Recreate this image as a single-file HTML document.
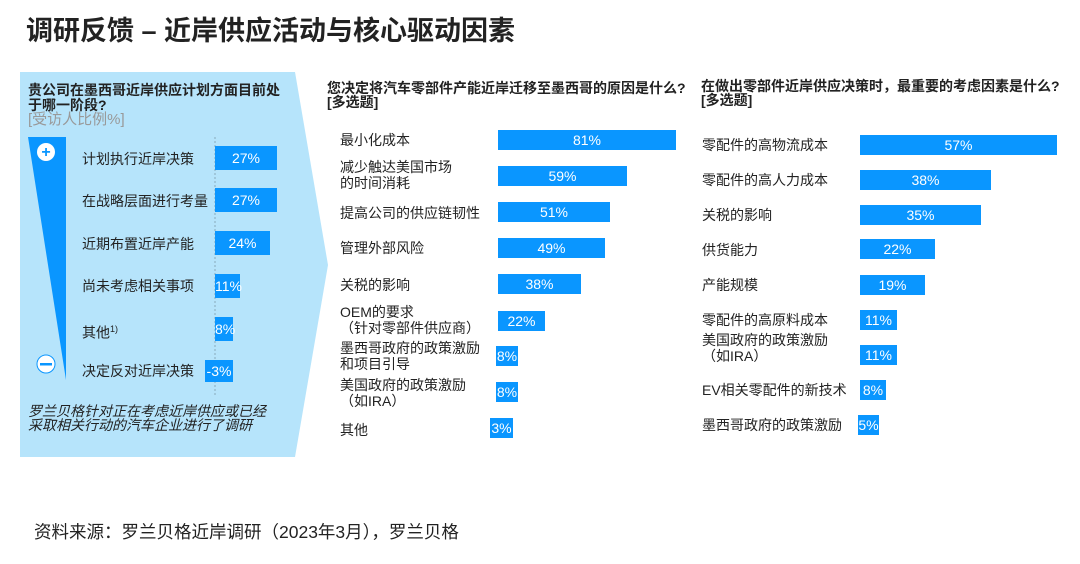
<!DOCTYPE html><html><head><meta charset="utf-8"><style>
body{margin:0;width:1080px;height:564px;background:#fff;position:relative;overflow:hidden;font-family:"Liberation Sans","Noto Sans CJK SC",sans-serif;color:#222}
div{position:absolute}
.t{font-size:14px;line-height:16px;white-space:nowrap}
.b{background:#0a96ff;color:#fff;font-size:14px;height:20px;line-height:20px;text-align:center;overflow:visible;white-space:nowrap}
.h{font-size:14px;font-weight:bold;line-height:14px;white-space:nowrap}
</style></head><body>
<div style="left:26px;top:15px;font-size:27px;font-weight:bold;line-height:32px">调研反馈 – 近岸供应活动与核心驱动因素</div>
<svg style="position:absolute;left:0;top:0" width="1080" height="564">
<polygon points="20,72 295,72 328,265 295,457 20,457" fill="#b6e4fb"/>
<polygon points="28,137 66,137 66,380" fill="#0a96ff"/>
<line x1="215" y1="137" x2="215" y2="395" stroke="#8ab" stroke-dasharray="2,2"/>
<circle cx="46" cy="152" r="9" fill="#fff"/><text x="46" y="157" text-anchor="middle" font-size="16" font-weight="bold" fill="#0a96ff" font-family="Liberation Sans">+</text>
<circle cx="46" cy="364" r="9" fill="#fff" stroke="#0a96ff"/><rect x="40" y="363" width="12" height="2.5" fill="#0a96ff"/>
</svg>
<div class="h" style="left:28px;top:83px;line-height:15px;font-size:14px">贵公司在墨西哥近岸供应计划方面目前处<br>于哪一阶段?</div>
<div class="t" style="left:28px;top:112px;color:#999;font-size:15px">[受访人比例%]</div>
<div class="t" style="left:82px;top:151px">计划执行近岸决策</div><div class="b" style="left:215px;top:146px;width:62px;height:24px;line-height:24px">27%</div>
<div class="t" style="left:82px;top:193px">在战略层面进行考量</div><div class="b" style="left:215px;top:188px;width:62px;height:24px;line-height:24px">27%</div>
<div class="t" style="left:82px;top:236px">近期布置近岸产能</div><div class="b" style="left:215px;top:231px;width:55px;height:24px;line-height:24px">24%</div>
<div class="t" style="left:82px;top:278px">尚未考虑相关事项</div><div class="b" style="left:215px;top:274px;width:25px;height:24px;line-height:24px">11%</div>
<div class="t" style="left:82px;top:321px">其他<sup style="font-size:9px">1)</sup></div><div class="b" style="left:215px;top:317px;width:18px;height:24px;line-height:24px">8%</div>
<div class="t" style="left:82px;top:363px">决定反对近岸决策</div><div class="b" style="left:205px;top:360px;width:28px;height:22px;line-height:22px">-3%</div>
<div class="t" style="left:28px;top:404px;font-style:italic;line-height:14px">罗兰贝格针对正在考虑近岸供应或已经<br>采取相关行动的汽车企业进行了调研</div>
<div class="h" style="left:327px;top:81px">您决定将汽车零部件产能近岸迁移至墨西哥的原因是什么?<br>[多选题]</div>
<div class="t" style="left:340px;top:132px">最小化成本</div><div class="b" style="left:498px;top:130px;width:178px">81%</div>
<div class="t" style="left:340px;top:159px">减少触达美国市场<br>的时间消耗</div><div class="b" style="left:498px;top:166px;width:129px">59%</div>
<div class="t" style="left:340px;top:205px">提高公司的供应链韧性</div><div class="b" style="left:498px;top:202px;width:112px">51%</div>
<div class="t" style="left:340px;top:240px">管理外部风险</div><div class="b" style="left:498px;top:238px;width:107px">49%</div>
<div class="t" style="left:340px;top:277px">关税的影响</div><div class="b" style="left:498px;top:274px;width:83px">38%</div>
<div class="t" style="left:340px;top:304px">OEM的要求<br>（针对零部件供应商）</div><div class="b" style="left:498px;top:311px;width:47px">22%</div>
<div class="t" style="left:340px;top:340px">墨西哥政府的政策激励<br>和项目引导</div><div class="b" style="left:496px;top:346px;width:22px">8%</div>
<div class="t" style="left:340px;top:377px">美国政府的政策激励<br>（如IRA）</div><div class="b" style="left:496px;top:382px;width:22px">8%</div>
<div class="t" style="left:340px;top:422px">其他</div><div class="b" style="left:490px;top:418px;width:23px">3%</div>
<div class="h" style="left:701px;top:79px">在做出零部件近岸供应决策时，最重要的考虑因素是什么?<br>[多选题]</div>
<div class="t" style="left:702px;top:137px">零配件的高物流成本</div><div class="b" style="left:860px;top:135px;width:197px">57%</div>
<div class="t" style="left:702px;top:172px">零配件的高人力成本</div><div class="b" style="left:860px;top:170px;width:131px">38%</div>
<div class="t" style="left:702px;top:207px">关税的影响</div><div class="b" style="left:860px;top:205px;width:121px">35%</div>
<div class="t" style="left:702px;top:242px">供货能力</div><div class="b" style="left:860px;top:239px;width:75px">22%</div>
<div class="t" style="left:702px;top:277px">产能规模</div><div class="b" style="left:860px;top:275px;width:65px">19%</div>
<div class="t" style="left:702px;top:312px">零配件的高原料成本</div><div class="b" style="left:860px;top:310px;width:37px">11%</div>
<div class="t" style="left:702px;top:332px">美国政府的政策激励<br>（如IRA）</div><div class="b" style="left:860px;top:345px;width:37px">11%</div>
<div class="t" style="left:702px;top:382px">EV相关零配件的新技术</div><div class="b" style="left:860px;top:380px;width:26px">8%</div>
<div class="t" style="left:702px;top:417px">墨西哥政府的政策激励</div><div class="b" style="left:858px;top:415px;width:21px">5%</div>
<div class="t" style="left:34px;top:522px;font-size:17.5px;line-height:20px">资料来源：罗兰贝格近岸调研（2023年3月），罗兰贝格</div>
</body></html>
